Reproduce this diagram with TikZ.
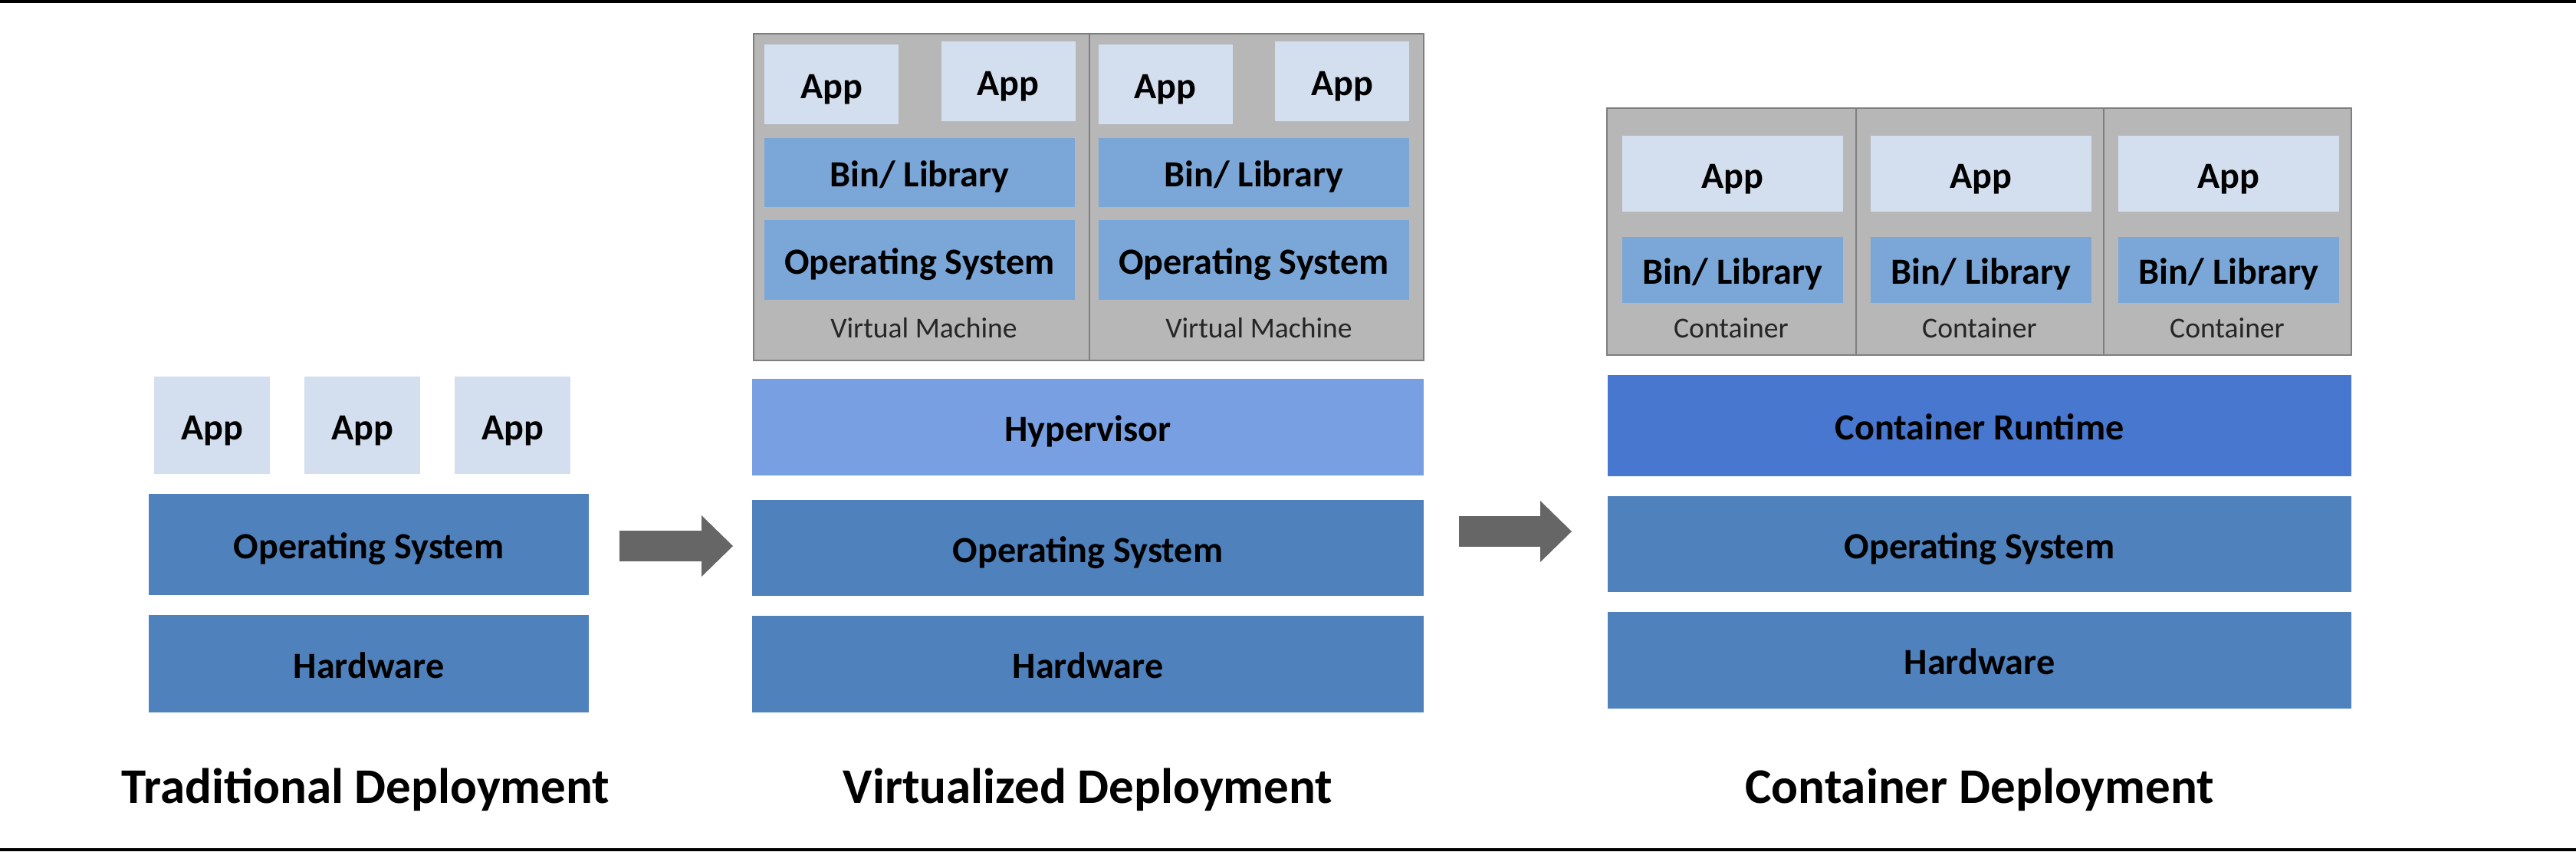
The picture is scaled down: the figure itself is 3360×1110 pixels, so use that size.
\documentclass[tikz,border=0pt]{standalone}
\usepackage{fontspec}
\setmainfont{Carlito}
\usetikzlibrary{arrows.meta}
\definecolor{appfill}{HTML}{D3DFEF}
\definecolor{layerblue}{HTML}{4F81BD}
\definecolor{libblue}{HTML}{7BA7D8}
\definecolor{hyperblue}{HTML}{789FE2}
\definecolor{runtimeblue}{HTML}{4877CF}
\definecolor{vmgray}{HTML}{B7B7B7}
\definecolor{vmedge}{HTML}{7F7F7F}
\definecolor{arrowgray}{HTML}{666666}

\begin{document}
\begin{tikzpicture}[x=0.1mm, y=-0.1mm,
  wh/.style 2 args={minimum width=#1*0.1mm, minimum height=#2*0.1mm},
  box/.style={rectangle, inner sep=0pt, text height=3.7mm, text depth=0pt, font=\fontsize{13.7}{16}\selectfont\bfseries},
  app/.style={box, fill=appfill},
  layer/.style={box, fill=layerblue},
  lib/.style={box, fill=libblue},
  vm/.style={rectangle, inner sep=0pt, fill=vmgray, draw=vmedge, line width=0.2mm},
  vmtext/.style={inner sep=0pt, text=black!85, font=\fontsize{10.7}{13}\selectfont},
  title/.style={anchor=base, inner sep=0pt, font=\fontsize{18.5}{22}\selectfont\bfseries},
  bigarrow/.style={draw=arrowgray, line width=4mm, -{Triangle[length=4.1mm, width=8mm, line width=0pt]}}]
\useasboundingbox (0,0) rectangle (3360,1110);
\fill[black] (0,0) rectangle (3360,4);
\fill[black] (0,1106) rectangle (3360,1110);

\node[app, wh={151}{127}] (tapp1) at (276.5,554.5) {App};
\node[app, wh={151}{127}] (tapp2) at (472.5,554.5) {App};
\node[app, wh={151}{127}] (tapp3) at (668.5,554.5) {App};
\node[layer, wh={574}{132}] (tos) at (481,710) {Operating System};
\node[layer, wh={574}{127}] (thw) at (481,865.5) {Hardware};
\node[title] (ttitle) at (477,1047) {Traditional Deployment};

\node[vm, wh={438}{426}] (vm1) at (1202,257) {};
\node[vm, wh={436}{426}] (vm2) at (1639,257) {};
\node[app, wh={175}{104}] (vapp1) at (1084.5,110) {App};
\node[app, wh={175}{104}] (vapp2) at (1315,106) {App};
\node[app, wh={175}{104}] (vapp3) at (1520,110) {App};
\node[app, wh={175}{104}] (vapp4) at (1750.5,106) {App};
\node[lib, wh={405}{90}] (vlib1) at (1199.5,225) {Bin/ Library};
\node[lib, wh={405}{90}] (vlib2) at (1635.5,225) {Bin/ Library};
\node[lib, wh={405}{104}] (vmos1) at (1199.5,339) {Operating System};
\node[lib, wh={405}{104}] (vmos2) at (1635.5,339) {Operating System};
\node[vmtext] (vm1lbl) at (1205,428) {Virtual Machine};
\node[vmtext] (vm2lbl) at (1642,428) {Virtual Machine};
\node[box, fill=hyperblue, wh={876}{126}] (hyper) at (1419,557) {Hypervisor};
\node[layer, wh={876}{125}] (vos) at (1419,714.5) {Operating System};
\node[layer, wh={876}{126}] (vhw) at (1419,866) {Hardware};
\node[title] (vtitle) at (1419,1047) {Virtualized Deployment};

\node[vm, wh={325}{322}] (ct1) at (2258.5,302) {};
\node[vm, wh={323}{322}] (ct2) at (2582.5,302) {};
\node[vm, wh={323}{322}] (ct3) at (2905.5,302) {};
\node[app, wh={288}{99}] (capp1) at (2260,226.5) {App};
\node[app, wh={288}{99}] (capp2) at (2584,226.5) {App};
\node[app, wh={288}{99}] (capp3) at (2907,226.5) {App};
\node[lib, wh={288}{86}] (clib1) at (2260,352) {Bin/ Library};
\node[lib, wh={288}{86}] (clib2) at (2584,352) {Bin/ Library};
\node[lib, wh={288}{86}] (clib3) at (2907,352) {Bin/ Library};
\node[vmtext] (ct1lbl) at (2258,428) {Container};
\node[vmtext] (ct2lbl) at (2582,428) {Container};
\node[vmtext] (ct3lbl) at (2905,428) {Container};
\node[box, fill=runtimeblue, wh={970}{132}] (runtime) at (2582,555) {Container Runtime};
\node[layer, wh={970}{125}] (cos) at (2582,709.5) {Operating System};
\node[layer, wh={970}{126}] (chw) at (2582,861) {Hardware};
\node[title] (ctitle) at (2582,1047) {Container Deployment};

\coordinate (arr1s) at (808,712);
\coordinate (arr1e) at (956,712);
\coordinate (arr2s) at (1903,693);
\coordinate (arr2e) at (2050,693);
\draw[bigarrow] (arr1s) -- (arr1e);
\draw[bigarrow] (arr2s) -- (arr2e);
\end{tikzpicture}
\end{document}
